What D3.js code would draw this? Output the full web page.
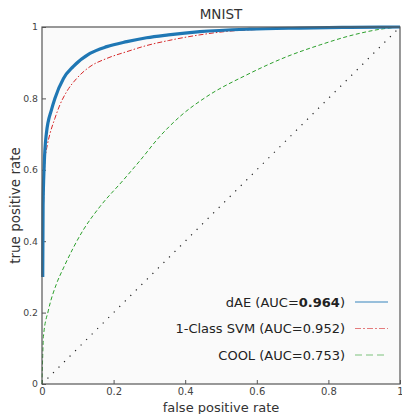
<!DOCTYPE html>
<html>
<head>
<meta charset="utf-8">
<script src="https://cdn.jsdelivr.net/npm/d3@7"></script>
<style>
  body { margin: 0; background: #fff; }
  text { font-family: "DejaVu Sans", sans-serif; }
</style>
</head>
<body>
<div id="chart"></div>
<script>
const width = 402, height = 414;
const margin = {top: 27, right: 2, bottom: 30, left: 42};

const title = "MNIST";
const xTicks = [0, 0.2, 0.4, 0.6, 0.8, 1];
const yTicks = [0, 0.2, 0.4, 0.6, 0.8, 1];

// [fpr, tpr]
const dae = [[0.002,0.30],[0.003,0.50],[0.006,0.61],[0.012,0.70],[0.027,0.77],[0.036,0.80],[0.06,0.856],[0.087,0.889],[0.134,0.926],[0.181,0.945],[0.237,0.959],[0.292,0.97],[0.353,0.978],[0.441,0.987],[0.58,0.994],[0.72,0.997],[0.86,0.999],[1,1]];
const svm = [[0.003,0.45],[0.008,0.62],[0.015,0.67],[0.022,0.70],[0.036,0.744],[0.05,0.782],[0.069,0.819],[0.097,0.856],[0.134,0.889],[0.181,0.912],[0.237,0.931],[0.292,0.948],[0.353,0.962],[0.441,0.978],[0.52,0.988],[0.6,0.993],[0.75,0.997],[1,1]];
const cool = [[0,0],[0.002,0.08],[0.004,0.133],[0.018,0.207],[0.041,0.282],[0.06,0.325],[0.115,0.431],[0.162,0.497],[0.227,0.571],[0.283,0.637],[0.32,0.683],[0.385,0.749],[0.46,0.805],[0.572,0.866],[0.684,0.917],[0.777,0.95],[0.87,0.978],[0.953,0.995],[1,1]];
const chance = [[0,0],[1,1]];

const series = [
  {name: "dAE", auc: "0.964", best: true, data: dae, color: "#1f77b4", w: 3.2, dash: null, legendDash: null},
  {name: "1-Class SVM", auc: "0.952", best: false, data: svm, color: "#d62728", w: 1, dash: "5,2,1.5,2", legendDash: "6,2,2,2"},
  {name: "COOL", auc: "0.753", best: false, data: cool, color: "#2ca02c", w: 1, dash: "4,2.5", legendDash: "7,4"}
];

const svg = d3.select("#chart").append("svg")
  .attr("width", width)
  .attr("height", height);

const x = d3.scaleLinear().domain([0, 1]).range([margin.left, width - margin.right]);
const y = d3.scaleLinear().domain([0, 1]).range([height - margin.bottom, margin.top]);

svg.append("rect")
  .attr("x", x(0)).attr("y", y(1))
  .attr("width", x(1) - x(0)).attr("height", y(0) - y(1))
  .attr("fill", "#fafafa");

const fmt = d => d === 0 ? "0" : d === 1 ? "1" : d3.format(".1f")(d);

// x axis, ticks pointing inward
svg.append("g")
  .attr("transform", `translate(0,${y(0)})`)
  .call(d3.axisBottom(x).tickValues(xTicks).tickFormat(fmt).tickSizeInner(-4).tickSizeOuter(0).tickPadding(4))
  .call(g => g.select(".domain").remove())
  .call(g => g.selectAll("line").attr("stroke", "#555"))
  .call(g => g.selectAll("text").attr("fill", "#444").attr("font-size", 10));

svg.append("g")
  .attr("transform", `translate(${x(0)},0)`)
  .call(d3.axisLeft(y).tickValues(yTicks).tickFormat(fmt).tickSizeInner(-4).tickSizeOuter(0).tickPadding(4))
  .call(g => g.select(".domain").remove())
  .call(g => g.selectAll("line").attr("stroke", "#555"))
  .call(g => g.selectAll("text").attr("fill", "#444").attr("font-size", 9.3));

const line = d3.line().x(d => x(d[0])).y(d => y(d[1])).curve(d3.curveMonotoneX);

svg.append("path")
  .datum(chance)
  .attr("d", line)
  .attr("fill", "none")
  .attr("stroke", "#222")
  .attr("stroke-width", 1.2)
  .attr("stroke-dasharray", "1.2,6.6");

series.slice().reverse().forEach(s => {
  svg.append("path")
    .datum(s.data)
    .attr("d", line)
    .attr("fill", "none")
    .attr("stroke", s.color)
    .attr("stroke-width", s.w)
    .attr("stroke-dasharray", s.dash);
});

// frame
svg.append("rect")
  .attr("x", x(0)).attr("y", y(1))
  .attr("width", x(1) - x(0)).attr("height", y(0) - y(1))
  .attr("fill", "none")
  .attr("stroke", "#555")
  .attr("stroke-width", 1.2);

// legend
const legend = svg.append("g");
series.forEach((s, i) => {
  const ly = 302 + i * 26.5;
  const t = legend.append("text")
    .attr("x", 345).attr("y", ly).attr("dy", "0.35em")
    .attr("text-anchor", "end")
    .attr("font-size", 13)
    .attr("fill", "#222");
  t.append("tspan").text(s.name + " (AUC=");
  t.append("tspan").attr("font-weight", s.best ? "bold" : null).text(s.auc);
  t.append("tspan").text(")");
  legend.append("line")
    .attr("x1", 355).attr("x2", 388)
    .attr("y1", ly).attr("y2", ly)
    .attr("stroke", s.color)
    .attr("stroke-opacity", 0.6)
    .attr("stroke-width", s.best ? 1.5 : 1.2)
    .attr("stroke-dasharray", s.legendDash);
});

svg.append("text")
  .attr("x", (x(0) + x(1)) / 2).attr("y", 19)
  .attr("text-anchor", "middle")
  .attr("font-size", 13.5)
  .attr("fill", "#333")
  .text(title);

svg.append("text")
  .attr("x", (x(0) + x(1)) / 2).attr("y", 412)
  .attr("text-anchor", "middle")
  .attr("font-size", 13)
  .attr("fill", "#333")
  .text("false positive rate");

svg.append("text")
  .attr("transform", `translate(20,${(y(0) + y(1)) / 2}) rotate(-90)`)
  .attr("text-anchor", "middle")
  .attr("font-size", 13.5)
  .attr("fill", "#333")
  .text("true positive rate");
</script>
</body>
</html>
